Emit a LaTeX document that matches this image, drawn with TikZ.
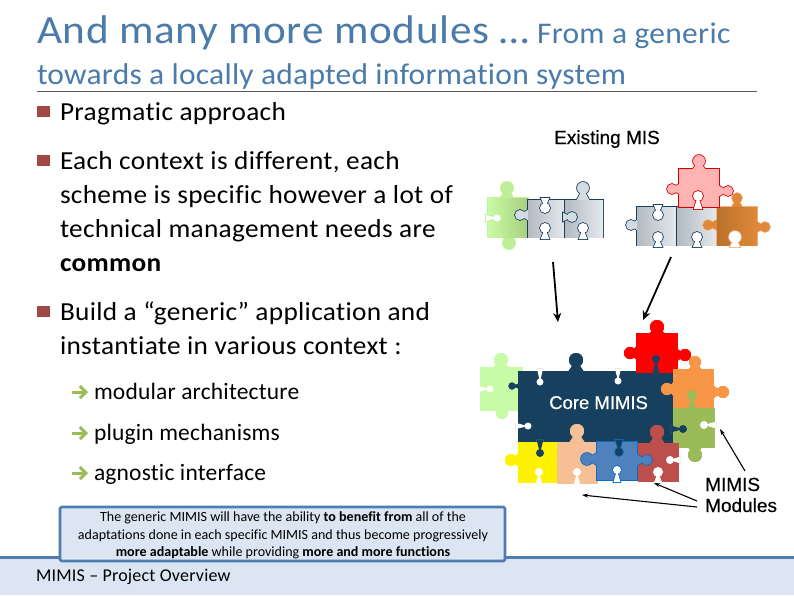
\documentclass[tikz,border=0pt]{standalone}
\usepackage{fontspec}
\setmainfont[Ligatures=NoCommon]{Carlito}
\newfontfamily\arl[FakeBold=0.4]{Liberation Sans}
\usetikzlibrary{arrows.meta,calc}
\definecolor{titleblue}{HTML}{4A7BAA}
\definecolor{bul}{HTML}{A04846}
\definecolor{foot}{HTML}{DCE6F2}
\definecolor{edgeblue}{HTML}{4F7DB2}
\definecolor{core}{HTML}{17405F}
\definecolor{lgreen}{HTML}{C8FBA5}
\definecolor{gray1}{HTML}{D3DBE3}
\definecolor{olive}{HTML}{9BBB59}
\definecolor{orng}{HTML}{F79646}
\definecolor{peach}{HTML}{F6BF95}
\definecolor{blu}{HTML}{4F81BD}
\definecolor{blu2}{HTML}{0B6CBE}
\definecolor{brn}{HTML}{BC4F4C}
\definecolor{pink}{HTML}{FFB4B4}
\definecolor{ochre}{HTML}{D07F30}
\definecolor{ochre2}{HTML}{F3B27E}
\definecolor{green2}{HTML}{A9CF7E}
\definecolor{green3}{HTML}{C6F29C}
\tikzset{
  txt/.style={anchor=base west,inner sep=0pt,outer sep=0pt,font=\fontsize{26}{26}\selectfont\addfontfeature{FakeStretch=1.05,LetterSpace=1.2},text=black},
  sub/.style={txt,font=\fontsize{23.5}{24}\selectfont\addfontfeature{LetterSpace=0.8}},
  ttl/.style={txt,text=titleblue},
  call/.style={anchor=base,inner sep=0pt,font=\fontsize{14.05}{14}\selectfont,text=black},
  lab/.style={anchor=base west,inner sep=0pt,font=\arl\fontsize{19}{19}\selectfont},
  bigarrow/.style={line width=1.8pt,-{Stealth[length=9pt,width=8pt]}},
  thinarrow/.style={line width=1.1pt,-{Stealth[length=6pt,width=4pt]}},
  grarrow/.style={line width=3pt,draw=olive,-{Straight Barb[length=6pt,width=12pt]}},
  bsq/.style={fill=bul,draw=none},
  rs/.style={}
}
\newcommand{\flare}[6]{% opts, cx, cy, ex, ey, halfwidth
  \path[#1] (#2,#3) -- ($(#4,#5)!#6pt!90:(#2,#3)$) -- ($(#4,#5)!#6pt!-90:(#2,#3)$) -- cycle;
}
% #1 fill #2 outline #3 outline width #4 x1 #5 y1 #6 x2 #7 y2 #8 knobs #9 sockets
\newcommand{\pz}[9]{%
  \foreach \cx/\cy/\ex/\ey/\kr in {#8}{%
    \draw[#2,fill=#2,line width=#3pt] (\cx,\cy) circle[radius=\kr pt];
    \pgfmathsetmacro\fw{\kr*1.05}
    \flare{draw=#2,fill=#2,line width=#3pt}{\cx}{\cy}{\ex}{\ey}{\fw}
  }
  \draw[#2,fill=#2,line width=#3pt] (#4,#5) rectangle (#6,#7);
  \foreach \cx/\cy/\ex/\ey/\kr in {#8}{%
    \fill[#1] (\cx,\cy) circle[radius=\kr pt];
    \pgfmathsetmacro\fw{\kr*1.05}
    \flare{fill=#1}{\cx}{\cy}{\ex}{\ey}{\fw}
  }
  \fill[#1,rs] (#4,#5) rectangle (#6,#7);
  \foreach \cx/\cy/\ex/\ey/\kr/\sc in {#9}{%
    \draw[#2,line width=#3pt] (\cx,\cy) circle[radius=\kr pt];
    \pgfmathsetmacro\fw{\kr*0.85}
    \flare{draw=#2,line width=#3pt}{\cx}{\cy}{\ex}{\ey}{\fw}
    \fill[\sc] (\cx,\cy) circle[radius=\kr pt];
    \flare{fill=\sc}{\cx}{\cy}{\ex}{\ey}{\fw}
  }
}
\begin{document}
\begin{tikzpicture}[x=1pt,y=-1pt]
\useasboundingbox (0,0) rectangle (794,595);
\fill[white] (0,0) rectangle (794,595);
% footer
\fill[foot] (0,557) rectangle (794,595);
\draw[edgeblue,line width=3pt] (0,557) -- (794,557);
% title
\node[ttl,font=\fontsize{40}{40}\selectfont\addfontfeature{FakeStretch=1.08,LetterSpace=1.7}] (t1) at (37,43) {And many more modules …};
\node[ttl,font=\fontsize{30}{30}\selectfont\addfontfeature{FakeStretch=1.05,LetterSpace=1}] (t2) at (537,43) {From a generic};
\node[ttl,font=\fontsize{30}{30}\selectfont\addfontfeature{FakeStretch=1.05,LetterSpace=0.8}] (t3) at (37,84) {towards a locally adapted information system};
\draw[gray!70!black,line width=1.2pt] (37,91.5) -- (757,91.5);
% bullets
\foreach \by in {111,160,311}{\fill[bsq] (37,\by-5.5) rectangle (50,\by+5.5);}
\node[txt] (b1) at (60,120) {Pragmatic approach};
\node[txt] (b2) at (60,169) {Each context is different, each};
\node[txt] (b3) at (60,203) {scheme is specific however a lot of};
\node[txt] (b4) at (60,237) {technical management needs are};
\node[txt] (b5) at (60,271) {\bfseries common};
\node[txt] (b6) at (60,320) {Build a “generic” application and};
\node[txt] (b7) at (60,354) {instantiate in various context :};
% sub bullets
\foreach \sy/\sn in {392/a,433/b,473/c}{
  \coordinate (s\sn1) at (72,\sy); \coordinate (s\sn2) at (88,\sy);
  \draw[grarrow] (s\sn1) -- (s\sn2);
}
\node[sub] (s1) at (94,399) {modular architecture};
\node[sub] (s2) at (94,440) {plugin mechanisms};
\node[sub] (s3) at (94,480) {agnostic interface};
% callout
\draw[edgeblue,fill=foot,line width=2.6pt,rounded corners=1.5pt] (60,507) rectangle (505,561);
\node[call] (c1) at (283,521) {The generic MIMIS will have the ability \textbf{to benefit from} all of the};
\node[call] (c2) at (283,539) {adaptations done in each specific MIMIS and thus become progressively};
\node[call] (c3) at (283,556) {\textbf{more adaptable} while providing \textbf{more and more functions}};
\node[txt,font=\fontsize{18}{18}\selectfont\addfontfeature{LetterSpace=1.2}] (f1) at (36,581) {MIMIS – Project Overview};
% existing MIS label
\node[lab] (ex) at (554,144) {Existing MIS};
% top puzzle group 1
\tikzset{rs/.style={left color=lgreen,right color=green2}}
\pz{lgreen!70!green2}{green3}{2}{488}{198}{528}{237}{507/188/507/198/6,509/243/509/237/6}{497/218/486/218/3.5/white}
\tikzset{rs/.style={left color=gray1!85!black,right color=gray1!60!white}}
\pz{gray1}{core}{1.6}{528}{200}{565}{237}{520/215/528/215/5}{545/208/545/198/5/white,545/228/545/239/5/white}
\pz{gray1}{core}{1.6}{565}{200}{603}{237}{583/188/583/200/6}{572/217/563/217/5/gray1,583/228/583/239/5/white}
% top puzzle group 2
\pz{gray1}{core}{1.6}{637}{207}{677}{245}{631/225/637/225/5}{658/215/658/205/5/white,658/237/658/247/5/white}
\pz{gray1}{core}{1.6}{677}{207}{717}{245}{687/223/677/223/5}{697/237/697/247/5/white}
\tikzset{rs/.style={left color=ochre!90!black,right color=ochre!60!orng}}
\pz{ochre!60!orng}{ochre2}{1.6}{717}{207}{757}{245}{737/198/737/207/5,708/225/717/225/5,765/227/757/227/5}{735/237/735/247/6/white}
\tikzset{rs/.style={}}
\pz{pink}{red!85!black}{1.6}{679}{169}{719}{207}{699/161/699/169/6,672/189/679/189/5,728/191/719/191/5}{698/196/698/209/5/white}
% Core and modules
\pz{lgreen}{lgreen}{0.1}{480}{367}{522}{410}{501/360/501/367/7,502/413/502/410/6}{490/389/478/389/3.5/white}
\pz{core}{core}{0.1}{518}{371}{673}{443}{576/360/576/371/7,512/386/522/386/3.5}{540/382/540/369/3.5/white,618/381/618/369/3.5/white,528/426/516/426/3.5/white}
\pz{red}{red}{0.1}{636}{333}{677}{372}{657/327/657/333/7,630/353/636/353/6,685/355/677/355/6}{656/359/656/374/4/core}
\pz{orng}{orng}{0.1}{673}{369}{713}{408}{695/362/695/369/6,667/389/673/389/6,723/392/713/392/6}{692/395/692/410/5/olive}
\pz{olive}{olive}{0.1}{673}{408}{714}{447}{695/455/695/447/7}{683/429/671/429/4/core,704/425/716/425/4/white}
\pz{yellow}{yellow}{0.1}{518}{442}{557}{482}{511/460/518/460/6}{540/453/540/440/4/core,539/472/539/484/4/white}
\pz{peach}{peach}{0.1}{557}{442}{597}{483}{577/431/577/442/7,567/460/557/460/4}{577/472/577/485/4/white}
\pz{brn}{brn}{0.1}{638}{443}{678}{481}{657/432/657/443/7}{658/472/658/483/5/white,670/460/680/460/4/white}
\pz{blu}{blu2}{1.6}{597}{442}{637}{480}{587/459/597/459/6,647/460/637/460/5}{619/452/619/440/4/core,617/470/617/482/4/white}
\node[lab,text=white,font=\arl\fontsize{18.5}{18.5}\selectfont] (cm) at (549,409) {Core MIMIS};
\node[lab] (m1) at (705,491) {MIMIS};
\node[lab] (m2) at (705,512) {Modules};
% arrows
\coordinate (a1) at (553,262); \coordinate (a2) at (558,322);
\coordinate (a3) at (671,257); \coordinate (a4) at (643,320);
\draw[bigarrow] (a1) -- (a2);
\draw[bigarrow] (a3) -- (a4);
\coordinate (n1) at (745,471); \coordinate (n2) at (720,429);
\coordinate (n3) at (697,501); \coordinate (n4) at (654,483);
\coordinate (n5) at (697,507); \coordinate (n6) at (582,495);
\draw[thinarrow] (n1) -- (n2);
\draw[thinarrow] (n3) -- (n4);
\draw[thinarrow] (n5) -- (n6);
\end{tikzpicture}
\end{document}
